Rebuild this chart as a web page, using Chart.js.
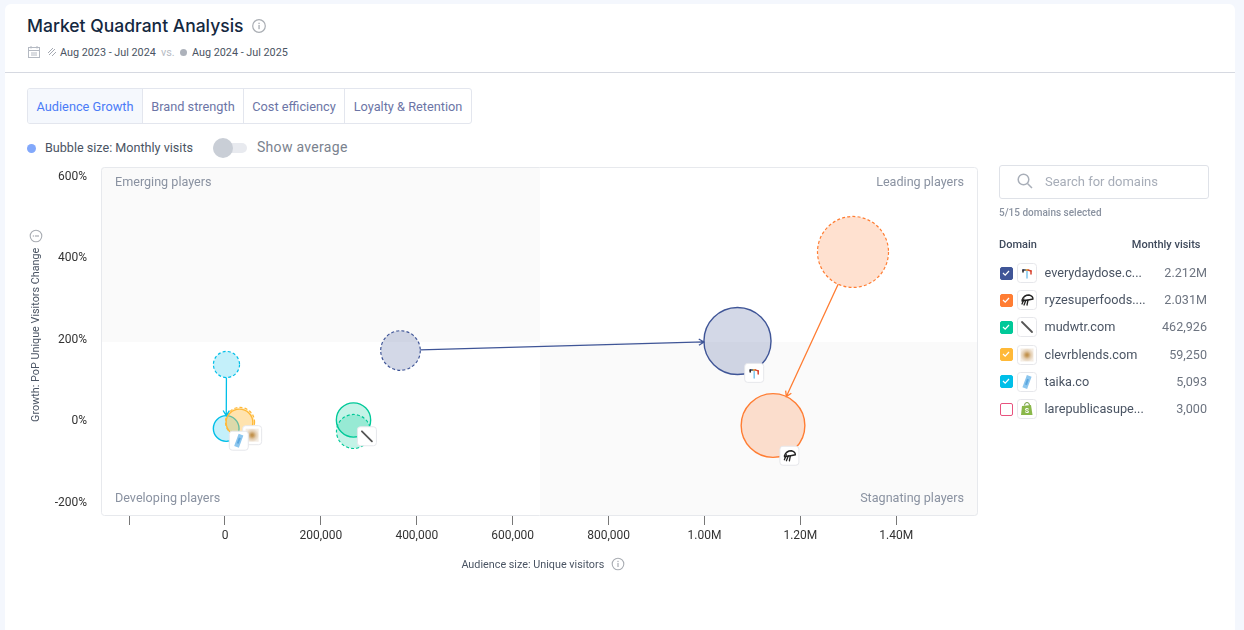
<!DOCTYPE html>
<html><head><meta charset="utf-8">
<script src="https://cdn.jsdelivr.net/npm/chart.js@4"></script>
<style>
html,body{margin:0;padding:0;width:1244px;height:630px;overflow:hidden;background:#f4f7fd;font-family:Roboto,sans-serif}
#card{position:absolute;left:5px;top:4px;width:1230px;height:640px;background:#fff;border-radius:6px}
.a{position:absolute;white-space:nowrap;line-height:16px}
canvas#c{position:absolute;left:0;top:0}
#tabs{position:absolute;left:27px;top:88px;width:443px;height:34px;border:1px solid #e3e6ee;border-radius:3px;overflow:hidden;display:block;background:#fff}
.tab{position:absolute;top:0;height:34px;line-height:36px;font-size:12.75px;color:#6c75a6;text-align:center;border-right:1px solid #e3e6ee;box-sizing:border-box}
.cb{position:absolute;left:1000px;width:13px;height:13px;border-radius:2px;box-sizing:border-box}
.ic{position:absolute;left:1017px;width:20px;height:20px}
</style></head><body>
<div id="card"></div>
<div class="a" style="left:5px;top:72px;width:1230px;height:1px;background:#d6d9e1"></div>
<div class="a" id="ttl" style="left:27px;top:14px;font:500 17.5px/24px 'Inter','Noto Sans',sans-serif;color:#14283f">Market Quadrant Analysis</div>
<svg class="a" style="left:251px;top:18px" width="16" height="16" viewBox="0 0 16 16"><circle cx="8" cy="8" r="6.3" fill="none" stroke="#a9adb3" stroke-width="1.2"/><rect x="7.4" y="7" width="1.3" height="4.2" fill="#a9adb3"/><rect x="7.4" y="4.7" width="1.3" height="1.4" fill="#a9adb3"/></svg>
<svg class="a" style="left:27px;top:45px" width="14" height="14" viewBox="0 0 14 14" fill="none" stroke="#b4b9c2"><rect x="1.5" y="2.5" width="11" height="10"/><path d="M1.5 5.5h11M4 1v2.5M10 1v2.5M4 8h6M4 10h6"/></svg>
<svg class="a" style="left:48px;top:48px" width="8" height="8" viewBox="0 0 8 8" fill="none" stroke="#a4a9b2"><path d="M0 5L5 0M1 7L7 1M4 8L8 4"/></svg>
<div class="a" style="left:60px;top:44.5px;font-size:10.8px;color:#4a5463">Aug 2023 - Jul 2024</div>
<div class="a" style="left:161px;top:44.5px;font-size:10.8px;color:#b6bbc4">vs.</div>
<div class="a" style="left:180px;top:49px;width:7px;height:7px;border-radius:50%;background:#adb2bb"></div>
<div class="a" style="left:192px;top:44.5px;font-size:10.8px;color:#4a5463">Aug 2024 - Jul 2025</div>
<div id="tabs">
<div class="tab" style="left:0;width:115px;background:#f5f8fd;color:#4a7bf7">Audience Growth</div>
<div class="tab" style="left:115px;width:101px">Brand strength</div>
<div class="tab" style="left:216px;width:101px">Cost efficiency</div>
<div class="tab" style="left:317px;width:126px;border-right:none">Loyalty &amp; Retention</div>
</div>
<div class="a" style="left:27px;top:144px;width:9px;height:9px;border-radius:50%;background:#82a8fb"></div>
<div class="a" style="left:45px;top:139.5px;font-size:12.6px;color:#4a5463">Bubble size: Monthly visits</div>
<div class="a" style="left:213px;top:143px;width:34px;height:10px;border-radius:5px;background:#e8eaef"></div>
<div class="a" style="left:213px;top:138px;width:20px;height:20px;border-radius:50%;background:#c9ced6"></div>
<div class="a" style="left:257px;top:139px;font-size:14px;letter-spacing:.3px;color:#7a828e">Show average</div>
<canvas id="c" width="1244" height="630"></canvas>
<svg class="a" style="left:29px;top:229px" width="14" height="14" viewBox="0 0 14 14"><g transform="rotate(-90 7 7)"><circle cx="7" cy="7" r="5.8" fill="#fff" stroke="#a9adb3" stroke-width="1.1"/><rect x="6.4" y="6" width="1.2" height="4" fill="#a9adb3"/><rect x="6.4" y="3.8" width="1.2" height="1.3" fill="#a9adb3"/></g></svg>
<svg class="a" style="left:611px;top:557px" width="14" height="14" viewBox="0 0 14 14"><circle cx="7" cy="7" r="5.8" fill="#fff" stroke="#a9adb3" stroke-width="1.1"/><rect x="6.4" y="6" width="1.2" height="4" fill="#a9adb3"/><rect x="6.4" y="3.8" width="1.2" height="1.3" fill="#a9adb3"/></svg>
<div class="a" style="left:999px;top:165px;width:208px;height:32px;border:1px solid #dfe2e8;border-radius:3px"></div>
<svg class="a" style="left:1016px;top:172px" width="18" height="18" viewBox="0 0 18 18" fill="none" stroke="#a9afb9" stroke-width="1.5"><circle cx="7.5" cy="7.5" r="5.3"/><path d="M11.5 11.5L16 16"/></svg>
<div class="a" style="left:1045px;top:174px;font-size:13px;color:#a7adb8">Search for domains</div>
<div class="a" style="left:999px;top:205px;font-size:10px;font-weight:500;color:#8a92a0">5/15 domains selected</div>
<div class="a" style="left:999px;top:237px;font-size:11px;font-weight:500;color:#3f4a5c">Domain</div>
<div class="a" style="right:43.5px;top:237px;font-size:11px;font-weight:500;color:#3f4a5c">Monthly visits</div>
<div id="rows"></div>
<script>
// ---- data ----
const domains      = ['everydaydose.com','ryzesuperfoods.com','mudwtr.com','clevrblends.com','taika.co'];
const prevVisitors = [366000,1309700,268000,31300,3100];
const prevGrowth   = [174.2,416,-24.5,-1.2,139.9];
const prevVisits   = [746000,2420000,450000,187000,27000];
const currVisitors = [1068800,1142900,268000,30200,2500];
const currGrowth   = [197.5,-9.8,3.7,-2.5,-17.2];
const currVisits   = [2212000,2031000,462926,59250,5093];
const seriesColors = ['#3f5597','#ff7d33','#00c999','#ffb938','#00bfe8'];
const iconKeys     = ['dose','ryze','mud','clevr','taika'];
const xTickValues  = [-200000,0,200000,400000,600000,800000,1000000,1200000,1400000];
const yTickValues  = [-200,0,200,400,600];
const listNames    = ['everydaydose.c...','ryzesuperfoods....','mudwtr.com','clevrblends.com','taika.co','larepublicasupe...'];
const listVisits   = ['2.212M','2.031M','462,926','59,250','5,093','3,000'];
const listColors   = ['#3f5597','#ff7d33','#00c999','#ffb938','#00bfe8','#e8527e'];
const listChecked  = [true,true,true,true,true,false];
const listIcons    = ['dose','ryze','mud','clevr','taika','shop'];
const quadrantNames= ['Emerging players','Leading players','Developing players','Stagnating players'];
const splitX = 657000, splitY = 195;

const radius = v => 12.8 + 9.38e-6 * v;
const alpha = (hex,a)=>{const n=parseInt(hex.slice(1),16);return `rgba(${n>>16},${(n>>8)&255},${n&255},${a})`;};

function drawIcon(g,k,cx,cy){
  g.save();g.translate(cx,cy);g.lineCap='round';
  if(k==='dose'){
    [['#7ec6ee',0,-3,0,5],['#2b3a67',-4,-3,-1,-3],['#e9b130',-1,-3,1,-3],['#d8432f',1,-3,4,-2],['#222',-4,-3,-4,-1],['#d8432f',4,-2,4,1]].forEach(s=>{g.strokeStyle=s[0];g.lineWidth=1.5;g.beginPath();g.moveTo(s[1],s[2]);g.lineTo(s[3],s[4]);g.stroke();});
  }else if(k==='ryze'){
    g.strokeStyle='#222';g.lineWidth=1.3;g.beginPath();g.moveTo(-5,0);g.quadraticCurveTo(-3,-5,2,-5);g.quadraticCurveTo(6,-4,6,-1);g.quadraticCurveTo(2,0,-5,1);g.stroke();
    g.beginPath();g.moveTo(-1,0);g.lineTo(-3,5);g.moveTo(1,0);g.lineTo(0,5);g.moveTo(-3,-1);g.lineTo(-5,4);g.stroke();
  }else if(k==='mud'){
    g.strokeStyle='#555';g.lineWidth=1.8;g.beginPath();g.moveTo(-5,-5);g.lineTo(5,5);g.stroke();
  }else if(k==='clevr'){
    const r=g.createRadialGradient(0,0,1,0,0,7);r.addColorStop(0,'#c2934f');r.addColorStop(.5,'#e3cdb0');r.addColorStop(1,'#f4ece2');g.fillStyle=r;g.fillRect(-6.5,-6.5,13,13);
  }else if(k==='taika'){
    g.rotate(.35);g.fillStyle='#8cc6ee';g.fillRect(-2.5,-6.5,5,13);g.fillStyle='#5aa7e0';g.fillRect(-1,-3,2,6);
  }else if(k==='shop'){
    g.fillStyle='#8ab84a';g.beginPath();g.moveTo(-5,-3);g.lineTo(4,-4);g.lineTo(5.5,6);g.lineTo(-6,6);g.closePath();g.fill();
    g.strokeStyle='#6f9a38';g.lineWidth=1;g.beginPath();g.arc(0,-4,2.5,Math.PI,0);g.stroke();
    g.fillStyle='#fff';g.font='bold 7px Roboto';g.textAlign='center';g.fillText('S',0,4);
  }
  g.restore();
}
function drawBadge(g,k,cx,cy,s){
  g.save();g.fillStyle='#fff';g.strokeStyle='#e6e7eb';g.lineWidth=1;g.beginPath();g.roundRect(cx-s/2+.5,cy-s/2+.5,s-1,s-1,3);g.fill();g.stroke();g.restore();
  drawIcon(g,k,cx,cy);
}
// sidebar list
const rowsEl=document.getElementById('rows');
listNames.forEach((n,i)=>{
  const y=273+i*27.2, col=listColors[i];
  const cb=document.createElement('div');cb.className='cb';cb.style.top=(y-6.5)+'px';
  cb.style.background=listChecked[i]?col:'#fff';cb.style.border='1.5px solid '+col;
  if(listChecked[i])cb.innerHTML='<svg width="10" height="10" viewBox="0 0 10 10" style="display:block"><path d="M2 5l2.2 2.2L8 3" fill="none" stroke="#fff" stroke-width="1.2"/></svg>';
  rowsEl.appendChild(cb);
  const ic=document.createElement('canvas');ic.className='ic';ic.width=20;ic.height=20;ic.style.top=(y-10)+'px';rowsEl.appendChild(ic);
  drawBadge(ic.getContext('2d'),listIcons[i],10,10,20);
  const t=document.createElement('div');t.className='a';t.style.cssText=`left:1044.5px;top:${y-8}px;font-size:12.7px;color:#4a5463`;t.textContent=n;rowsEl.appendChild(t);
  const v=document.createElement('div');v.className='a';v.style.cssText=`right:37px;top:${y-8}px;font-size:12.6px;color:#6d7480`;v.textContent=listVisits[i];rowsEl.appendChild(v);
});

const datasets=[];
domains.forEach((d,i)=>{
  const col=seriesColors[i];
  datasets.push({label:d+' (Aug 2023 - Jul 2024)',dashed:true,
    data:[{x:prevVisitors[i],y:prevGrowth[i],r:radius(prevVisits[i])}],
    backgroundColor:alpha(col,.23),borderColor:col,borderWidth:1.2,hoverBorderWidth:1.2});
  datasets.push({label:d+' (Aug 2024 - Jul 2025)',dashed:false,
    data:[{x:currVisitors[i],y:currGrowth[i],r:radius(currVisits[i])}],
    backgroundColor:alpha(col,.23),borderColor:col,borderWidth:1.4,hoverBorderWidth:1.4});
});

const backdrop={id:'backdrop',
  beforeDraw(ch){
    const g=ch.ctx,a=ch.chartArea,sx=ch.scales.x.getPixelForValue(splitX),sy=ch.scales.y.getPixelForValue(splitY);
    g.save();
    g.beginPath();g.roundRect(a.left,a.top,a.right-a.left,a.bottom-a.top,3);g.save();g.clip();
    g.fillStyle='#fafafa';
    g.fillRect(a.left,a.top,sx-a.left,sy-a.top);
    g.fillRect(sx,sy,a.right-sx,a.bottom-sy);
    g.restore();
    g.strokeStyle='#e7e9ed';g.lineWidth=1;g.beginPath();g.roundRect(a.left+.5,a.top+.5,a.right-a.left-1,a.bottom-a.top-1,3);g.stroke();
    g.font='12.6px Roboto';g.fillStyle='#8a92a1';g.textBaseline='middle';
    g.textAlign='left';g.fillText(quadrantNames[0],a.left+14,a.top+15.5);g.fillText(quadrantNames[2],a.left+14,a.bottom-17);
    g.textAlign='right';g.fillText(quadrantNames[1],a.right-14,a.top+15.5);g.fillText(quadrantNames[3],a.right-14,a.bottom-17);
    g.restore();
  },
  beforeDatasetDraw(ch,args){ if(ch.data.datasets[args.index].dashed) ch.ctx.setLineDash([3,2.2]); },
  afterDatasetDraw(ch){ ch.ctx.setLineDash([]); },
  afterDatasetsDraw(ch){
    const g=ch.ctx;
    domains.forEach((d,i)=>{
      const p=ch.getDatasetMeta(i*2).data[0],q=ch.getDatasetMeta(i*2+1).data[0];
      const rp=ch.data.datasets[i*2].data[0].r,rq=ch.data.datasets[i*2+1].data[0].r;
      const dx=q.x-p.x,dy=q.y-p.y,L=Math.hypot(dx,dy);
      if(L<=rp+rq) return; // overlapping bubbles carry no arrow
      const ux=dx/L,uy=dy/L;
      const sx=p.x+ux*rp,sy=p.y+uy*rp,ex=q.x-ux*rq,ey=q.y-uy*rq;
      g.save();g.strokeStyle=seriesColors[i];g.lineWidth=1.3;g.beginPath();g.moveTo(sx,sy);g.lineTo(ex,ey);
      const a=Math.atan2(dy,dx),h=6;
      g.moveTo(ex-h*Math.cos(a-.55),ey-h*Math.sin(a-.55));g.lineTo(ex,ey);g.lineTo(ex-h*Math.cos(a+.55),ey-h*Math.sin(a+.55));
      g.stroke();g.restore();
    });
    [3,4,2,1,0].forEach(i=>{
      const q=ch.getDatasetMeta(i*2+1).data[0],r=ch.data.datasets[i*2+1].data[0].r;
      drawBadge(g,iconKeys[i],q.x+10+r*.2,q.y+r*.95,20);
    });
  }
};

Chart.defaults.font.family='Roboto, sans-serif';
new Chart(document.getElementById('c'),{
  type:'bubble',
  data:{datasets},
  plugins:[backdrop],
  options:{
    responsive:false,animation:false,events:[],
    layout:{padding:{left:0,top:167,right:266,bottom:0}},
    plugins:{legend:{display:false},tooltip:{enabled:false}},
    scales:{
      x:{type:'linear',min:-258600,max:1570400,
        afterFit(s){s.height=114;},
        afterBuildTicks(s){s.ticks=xTickValues.map(value=>({value}));},
        border:{display:false},
        grid:{drawOnChartArea:false,drawTicks:true,tickLength:9,tickColor:'#777',tickWidth:1},
        ticks:{maxRotation:0,padding:4,color:'#333',font:{size:12},autoSkip:false,
          callback(v){ if(v<0) return ''; return v>=1e6?(v/1e6).toFixed(2)+'M':v.toLocaleString('en-US'); }},
        title:{display:true,text:'Audience size: Unique visitors     ',color:'#4a5463',font:{size:10.8},padding:{top:0,bottom:58}}
      },
      y:{type:'linear',min:-231.9,max:624.5,
        afterFit(s){s.width=101;},
        afterBuildTicks(s){s.ticks=yTickValues.map(value=>({value}));},
        border:{display:false},
        grid:{display:false,drawTicks:false},
        ticks:{padding:14,color:'#333',font:{size:12},callback:v=>v+'%'},
        title:{display:true,text:'     Growth: PoP Unique Visitors Change',color:'#4a5463',font:{size:10.8},padding:{top:30,bottom:0}}
      }
    }
  }
});
</script>
</body></html>
